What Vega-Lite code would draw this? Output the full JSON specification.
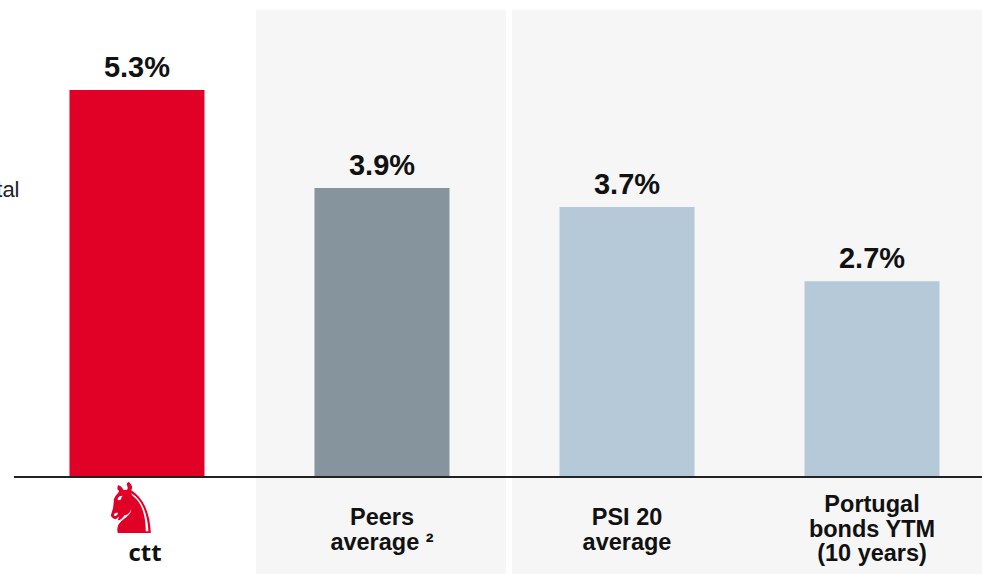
{
  "$schema": "https://vega.github.io/schema/vega-lite/v6.json",
  "width": 982,
  "height": 477,
  "autosize": {"type": "none"},
  "padding": {"left": 0, "top": 0, "right": 0, "bottom": 97},
  "background": "white",
  "config": {"view": {"stroke": null}, "font": "Liberation Sans"},
  "data": {"values": [
    {"cat": "ctt", "value": 5.3, "label": "5.3%", "grp": "ctt", "name": []},
    {"cat": "Peers", "value": 3.96, "label": "3.9%", "grp": "peers", "name": ["Peers", "average ²"]},
    {"cat": "PSI 20", "value": 3.7, "label": "3.7%", "grp": "index", "name": ["PSI 20", "average"]},
    {"cat": "Portugal", "value": 2.68, "label": "2.7%", "grp": "index", "name": ["Portugal", "bonds YTM", "(10 years)"]}
  ]},
  "layer": [
    {
      "data": {"values": [{"from": "Peers", "to": "Peers"}]},
      "mark": {"type": "rect", "color": "#F6F6F6"},
      "encoding": {
        "x": {"field": "from", "type": "nominal", "bandPosition": -0.433,
              "scale": {"domain": ["ctt", "Peers", "PSI 20", "Portugal"], "paddingInner": 0.449, "paddingOuter": 0.2285, "align": 0.6205},
              "axis": null},
        "x2": {"field": "to", "bandPosition": 1.419},
        "y": {"datum": 6.4, "type": "quantitative", "scale": {"domain": [0, 6.534], "nice": false, "zero": false}, "axis": null},
        "y2": {"datum": -1.33}
      }
    },
    {
      "data": {"values": [{"from": "PSI 20", "to": "Portugal"}]},
      "mark": {"type": "rect", "color": "#F6F6F6"},
      "encoding": {
        "x": {"field": "from", "type": "nominal", "bandPosition": -0.352},
        "x2": {"field": "to", "bandPosition": 1.319},
        "y": {"datum": 6.4, "type": "quantitative"},
        "y2": {"datum": -1.33}
      }
    },
    {
      "mark": {"type": "bar"},
      "encoding": {
        "x": {"field": "cat", "type": "nominal"},
        "y": {"field": "value", "type": "quantitative"},
        "color": {"field": "grp", "type": "nominal", "scale": {"domain": ["ctt", "peers", "index"], "range": ["#E10026", "#85949D", "#B6C9D8"]}, "legend": null}
      }
    },
    {
      "mark": {"type": "text", "fontSize": 29, "fontWeight": "bold", "baseline": "alphabetic", "dy": -13, "color": "#111111"},
      "encoding": {
        "x": {"field": "cat", "type": "nominal"},
        "y": {"field": "value", "type": "quantitative"},
        "text": {"field": "label"}
      }
    },
    {
      "transform": [{"filter": "datum.cat == 'Peers' || datum.cat == 'PSI 20'"}],
      "mark": {"type": "text", "fontSize": 23.5, "fontWeight": "bold", "baseline": "alphabetic", "lineHeight": 25, "dy": 48, "color": "#111111"},
      "encoding": {
        "x": {"field": "cat", "type": "nominal"},
        "y": {"datum": 0, "type": "quantitative"},
        "text": {"field": "name"}
      }
    },
    {
      "transform": [{"filter": "datum.cat == 'Portugal'"}],
      "mark": {"type": "text", "fontSize": 23.5, "fontWeight": "bold", "baseline": "alphabetic", "lineHeight": 24.5, "dy": 35, "color": "#111111"},
      "encoding": {
        "x": {"field": "cat", "type": "nominal"},
        "y": {"datum": 0, "type": "quantitative"},
        "text": {"field": "name"}
      }
    },
    {
      "data": {"values": [{"from": "ctt", "to": "Portugal"}]},
      "mark": {"type": "rule", "color": "#222222", "strokeWidth": 2},
      "encoding": {
        "x": {"field": "from", "type": "nominal", "bandPosition": -0.411},
        "x2": {"field": "to", "bandPosition": 1.319},
        "y": {"datum": 0, "type": "quantitative"}
      }
    },
    {
      "data": {"values": [{"from": "ctt", "t": "♞"}]},
      "mark": {"type": "text", "font": "DejaVu Sans", "fontSize": 70, "color": "#E10026", "baseline": "middle", "dy": 35, "dx": -6},
      "encoding": {
        "x": {"field": "from", "type": "nominal"},
        "y": {"datum": 0, "type": "quantitative"},
        "text": {"field": "t"}
      }
    },
    {
      "data": {"values": [{"from": "ctt", "t": "ctt"}]},
      "mark": {"type": "text", "font": "Open Sans", "fontWeight": "bold", "fontSize": 24, "color": "#111111", "baseline": "alphabetic", "dy": 84, "dx": 8},
      "encoding": {
        "x": {"field": "from", "type": "nominal"},
        "y": {"datum": 0, "type": "quantitative"},
        "text": {"field": "t"}
      }
    },
    {
      "data": {"values": [{"from": "ctt", "t": "tal"}]},
      "mark": {"type": "text", "fontSize": 22, "color": "#222222", "baseline": "alphabetic", "align": "right"},
      "encoding": {
        "x": {"field": "from", "type": "nominal", "bandPosition": -0.37},
        "y": {"datum": 3.84, "type": "quantitative"},
        "text": {"field": "t"}
      }
    }
  ]
}
